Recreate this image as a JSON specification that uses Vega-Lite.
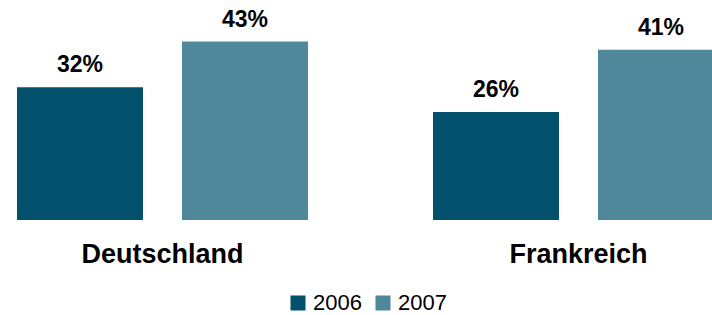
{
  "$schema": "https://vega.github.io/schema/vega-lite/v6.json",
  "width": 712,
  "height": 220,
  "padding": {"left": 0, "top": 0, "right": 0, "bottom": 95},
  "autosize": {"type": "none"},
  "background": "white",
  "config": {"view": {"stroke": null}, "font": "Liberation Sans"},
  "data": {"values": [
    {"country": "Deutschland", "year": "2006", "value": 0.32},
    {"country": "Deutschland", "year": "2007", "value": 0.43},
    {"country": "Frankreich", "year": "2006", "value": 0.26},
    {"country": "Frankreich", "year": "2007", "value": 0.41}
  ]},
  "encoding": {
    "x": {
      "field": "country", "type": "nominal", "sort": ["Deutschland", "Frankreich"],
      "scale": {"range": [0, 741], "paddingInner": 0.3005, "paddingOuter": 0.0409},
      "axis": {"title": null, "domain": false, "ticks": false, "tickSize": 0, "labelPadding": 21, "labelFontSize": 27, "labelFontWeight": "bold", "labelColor": "black", "labelAngle": 0, "grid": false, "labelFont": "Liberation Sans"}
    },
    "xOffset": {"field": "year", "type": "nominal", "scale": {"paddingInner": 0.2364, "paddingOuter": 0}},
    "y": {"field": "value", "type": "quantitative", "scale": {"domain": [0, 0.53], "nice": false, "zero": true}, "axis": null}
  },
  "layer": [
    {
      "mark": {"type": "bar"},
      "encoding": {
        "color": {
          "field": "year", "type": "nominal",
          "scale": {"domain": ["2006", "2007"], "range": ["#02506B", "#4F889B"]},
          "legend": {"title": null, "orient": "none", "legendX": 287, "legendY": 292, "direction": "horizontal", "symbolType": "square", "symbolSize": 225, "symbolStrokeWidth": 0, "labelFontSize": 22, "labelColor": "black", "labelOffset": 4, "columnPadding": 10, "padding": 0, "labelFont": "Liberation Sans"}
        }
      }
    },
    {
      "mark": {"type": "text", "baseline": "alphabetic", "dy": -15, "fontSize": 23, "fontWeight": "bold", "color": "black", "font": "Liberation Sans"},
      "encoding": {"text": {"field": "value", "type": "quantitative", "format": ".0%"}}
    }
  ]
}
